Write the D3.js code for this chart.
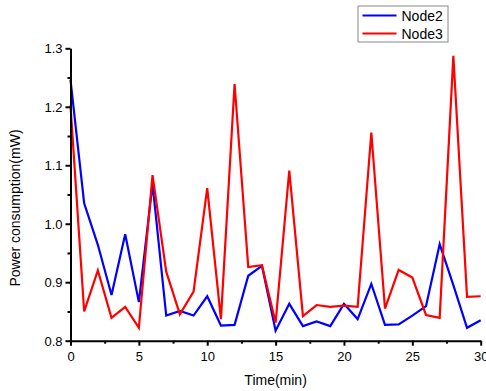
<!DOCTYPE html>
<html>
<head>
<meta charset="utf-8">
<script src="https://cdn.jsdelivr.net/npm/d3@7"></script>
<style>
  body { margin: 0; background: #fff; }
  text { font-family: "Liberation Sans", Arial, sans-serif; fill: #000; }
</style>
</head>
<body>
<script>
// data
var times = d3.range(0, 31);
var node2 = [1.246, 1.035, 0.964, 0.878, 0.982, 0.866, 1.068, 0.843, 0.851, 0.843, 0.876,
             0.826, 0.827, 0.911, 0.928, 0.817, 0.863, 0.825, 0.833, 0.825, 0.863,
             0.837, 0.897, 0.827, 0.828, 0.843, 0.859, 0.965, 0.895, 0.822, 0.835];
var node3 = [1.202, 0.850, 0.920, 0.839, 0.858, 0.822, 1.083, 0.918, 0.845, 0.884, 1.061,
             0.837, 1.239, 0.926, 0.929, 0.831, 1.091, 0.842, 0.861, 0.858, 0.860,
             0.858, 1.156, 0.855, 0.921, 0.908, 0.844, 0.839, 1.287, 0.875, 0.876];
var seriesNames = ["Node2", "Node3"];
var seriesColors = ["#0000ff", "#ff0000"];
var xTicks = [0, 5, 10, 15, 20, 25, 30];
var yTicks = [0.8, 0.9, 1.0, 1.1, 1.2, 1.3];

var width = 486, height = 391;
var margin = {top: 48.3, right: 5.3, bottom: 50.3, left: 70.5};

var svg = d3.select("body").append("svg")
    .attr("width", width)
    .attr("height", height);

var x = d3.scaleLinear().domain([0, 30]).range([margin.left, width - margin.right]);
var y = d3.scaleLinear().domain([0.8, 1.3]).range([height - margin.bottom, margin.top]);

var series = [node2, node3];

var line = d3.line()
    .x(function (d, i) { return x(times[i]); })
    .y(function (d) { return y(d); });

svg.selectAll(".series")
    .data(series)
    .enter()
    .append("path")
    .attr("class", "series")
    .attr("fill", "none")
    .attr("stroke", function (d, i) { return seriesColors[i]; })
    .attr("stroke-width", 2.2)
    .attr("stroke-linejoin", "miter")
    .attr("d", line);

// minor ticks
var xMinor = d3.range(2.5, 30, 5);
var yMinor = d3.range(0.85, 1.3, 0.1);

var xAxis = svg.append("g")
    .attr("transform", "translate(0," + y(0.8) + ")")
    .call(d3.axisBottom(x).tickValues(xTicks).tickSize(5).tickSizeOuter(0).tickFormat(d3.format("d")));
svg.append("g")
    .attr("transform", "translate(0," + y(0.8) + ")")
    .call(d3.axisBottom(x).tickValues(xMinor).tickSize(3).tickSizeOuter(0).tickFormat(""))
    .call(function (g) { g.select(".domain").remove(); });

var yAxis = svg.append("g")
    .attr("transform", "translate(" + x(0) + ",0)")
    .call(d3.axisLeft(y).tickValues(yTicks).tickSize(5).tickSizeOuter(0).tickFormat(d3.format(".1f")));
svg.append("g")
    .attr("transform", "translate(" + x(0) + ",0)")
    .call(d3.axisLeft(y).tickValues(yMinor).tickSize(3).tickSizeOuter(0).tickFormat(""))
    .call(function (g) { g.select(".domain").remove(); });

svg.selectAll(".domain").attr("stroke", "#000").attr("stroke-width", 2);
svg.selectAll(".tick line").attr("stroke", "#000").attr("stroke-width", 2);
svg.selectAll(".tick text").style("font-size", "13px").attr("fill", "#000");
xAxis.selectAll(".tick text").attr("dy", null).attr("y", 0).attr("transform", "translate(0,20)");
yAxis.selectAll(".tick text").attr("x", -8).attr("dy", "0.35em");

// axis titles
svg.append("text")
    .attr("x", x(15))
    .attr("y", 385)
    .attr("text-anchor", "middle")
    .style("font-size", "14px")
    .text("Time(min)");

svg.append("text")
    .attr("transform", "translate(20,208) rotate(-90)")
    .attr("text-anchor", "middle")
    .style("font-size", "14px")
    .text("Power consumption(mW)");

// legend
var legend = svg.append("g").attr("transform", "translate(358,6)");
legend.append("rect")
    .attr("width", 90)
    .attr("height", 36)
    .attr("fill", "#fff")
    .attr("stroke", "#888")
    .attr("stroke-width", 1);

var item = legend.selectAll(".legend")
    .data(seriesNames)
    .enter()
    .append("g")
    .attr("class", "legend")
    .attr("transform", function (d, i) { return "translate(0," + (9.5 + i * 18) + ")"; });

item.append("line")
    .attr("x1", 4.5)
    .attr("x2", 38.5)
    .attr("stroke", function (d, i) { return seriesColors[i]; })
    .attr("stroke-width", 2.2);

item.append("text")
    .attr("x", 43.5)
    .attr("dy", "0.36em")
    .style("font-size", "14px")
    .text(String);
</script>
</body>
</html>
